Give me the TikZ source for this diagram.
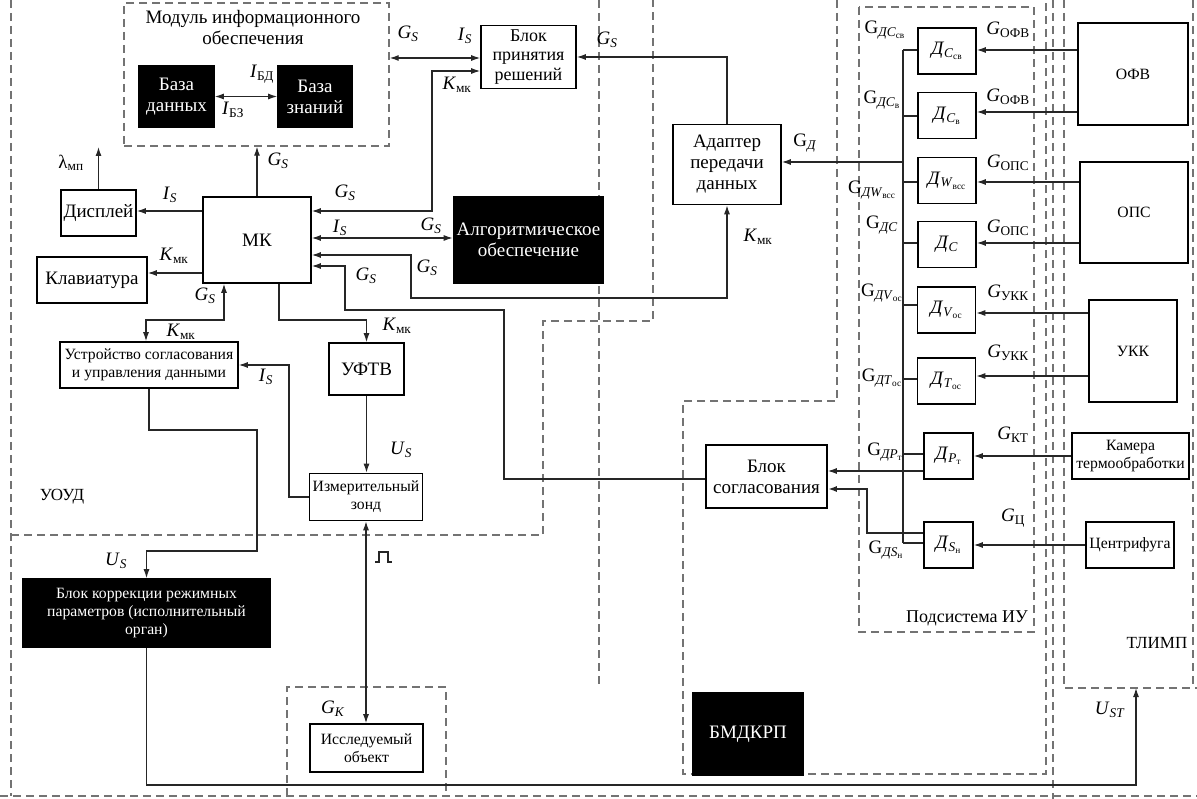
\documentclass[tikz,border=0pt]{standalone}
\usepackage{fontspec}
\setmainfont{Liberation Serif}
\usetikzlibrary{arrows.meta}

\newcommand{\sig}[2]{\textit{#1}\textsubscript{#2}}
\newcommand{\dat}[2]{\textit{Д}\textsubscript{\textit{#1}\textsubscript{#2}}}
\newcommand{\gdat}[2]{G\textsubscript{\textit{Д#1}\textsubscript{#2}}}

\begin{document}
\begin{tikzpicture}[x=1pt, y=-1pt,
    >={Latex[length=9pt,width=6pt]},
    blk/.style={draw, line width=1.6pt, fill=white, align=center, inner sep=1pt,
      font=\fontsize{19}{21}\selectfont},
    dark/.style={blk, fill=black, text=white},
    sml/.style={font=\fontsize{15.7}{18}\selectfont},
    sen/.style={blk, minimum width=58pt, minimum height=46pt, font=\fontsize{19}{20}\selectfont},
    region/.style={draw=black!55, line width=1.3pt, dash pattern=on 8pt off 5pt},
    lbl/.style={inner sep=0pt, font=\fontsize{19}{20}\selectfont},
    slbl/.style={inner sep=0pt, font=\fontsize{19}{20}\selectfont},
    conn/.style={line width=1.2pt, draw=black!85}]
  \useasboundingbox (0,0) rectangle (1197,799);

  % dashed regions
  \draw[region] (11,0) -- (11,796);
  \draw[region] (0,796) -- (1197,796);
  \draw[region] (11,535) -- (543,535) -- (543,321) -- (653,321) -- (653,0);
  \draw[region] (599,0) -- (599,688);
  \draw[region] (287,796) -- (287,687) -- (446,687) -- (446,796);
  \draw[region] (837,0) -- (837,401) -- (683,401) -- (683,774) -- (1046,774) -- (1046,0);
  \draw[region] (859,7) rectangle (1034,632);
  \draw[region] (1053,0) -- (1053,799);
  \draw[region] (1064,0) -- (1064,688) -- (1197,688);
  \draw[region] (1193,0) -- (1193,688);
  \node[font=\fontsize{17}{18}\selectfont] (uoud) at (62,497) {УОУД};
  \node[font=\fontsize{18}{19}\selectfont] (podsys) at (967,618) {Подсистема ИУ};
  \node[font=\fontsize{17}{18}\selectfont] (tlimp) at (1157,643) {ТЛИМП};

  % module of information support
  \node[region, minimum width=265pt, minimum height=143pt] (mod) at (256.5,74.5) {};
  \node[inner sep=0pt, align=center, font=\fontsize{19}{21}\selectfont] (modT) at (253,28) {Модуль информационного\\обеспечения};
  \node[dark, minimum width=75pt, minimum height=61pt] (bd) at (176.5,96.5) {База\\данных};
  \node[dark, minimum width=74pt, minimum height=61pt] (bz) at (315,96.5) {База\\знаний};

  % blocks
  \node[blk, font=\fontsize{18}{19.5}\selectfont, minimum width=95pt, minimum height=63pt] (bpr) at (528.5,57) {Блок\\принятия\\решений};
  \node[blk, minimum width=108pt, minimum height=80pt] (adapt) at (727,164.5) {Адаптер\\передачи\\данных};
  \node[dark, minimum width=150pt, minimum height=86pt] (alg) at (528.5,240) {Алгоритмическое\\обеспечение};
  \node[blk, minimum width=108pt, minimum height=86pt] (mk) at (257,240) {МК};
  \node[blk, minimum width=75pt, minimum height=46pt] (disp) at (98.5,213) {Дисплей};
  \node[blk, minimum width=110pt, minimum height=46pt] (klav) at (92,280) {Клавиатура};
  \node[blk, sml, minimum width=178pt, minimum height=46pt] (usu) at (149,365) {Устройство согласования\\и управления данными};
  \node[blk, minimum width=75pt, minimum height=52pt] (uftv) at (366.5,369) {УФТВ};
  \node[blk, sml, minimum width=113pt, minimum height=47pt] (zond) at (366,497) {Измерительный\\зонд};
  \node[blk, minimum width=121pt, minimum height=63pt] (bsogl) at (766.5,476.5) {Блок\\согласования};
  \node[dark, sml, minimum width=247pt, minimum height=68pt] (bkor) at (146.5,613) {Блок коррекции режимных\\параметров (исполнительный\\орган)};
  \node[blk, sml, minimum width=113pt, minimum height=48pt] (obj) at (366.5,748) {Исследуемый\\объект};
  \node[dark, minimum width=110pt, minimum height=82pt] (bmd) at (748,734) {БМДКРП};

  % sensors
  \node[sen] (d1) at (947,51) {\dat{C}{св}};
  \node[sen] (d2) at (947,115.5) {\dat{C}{в}};
  \node[sen] (d3) at (947,180.5) {\dat{W}{всс}};
  \node[sen] (d4) at (947,244.5) {\textit{Д}\textsubscript{\textit{C}}};
  \node[sen] (d5) at (946.5,310) {\dat{V}{ос}};
  \node[sen] (d6) at (946.5,381) {\dat{T}{ос}};
  \node[sen, minimum width=49pt] (d7) at (948.5,456) {\dat{P}{т}};
  \node[sen, minimum width=49pt] (d8) at (948.5,545) {\dat{S}{н}};

  % sources
  \node[blk, sml, minimum width=110pt, minimum height=102pt] (ofv) at (1133,74) {ОФВ};
  \node[blk, sml, minimum width=108pt, minimum height=101pt] (ops) at (1134,212.5) {ОПС};
  \node[blk, sml, minimum width=88pt, minimum height=102pt] (ukk) at (1133,351) {УКК};
  \node[blk, sml, minimum width=117pt, minimum height=46pt] (kam) at (1130.5,456) {Камера\\термообработки};
  \node[blk, sml, minimum width=88pt, minimum height=46pt] (cf) at (1130,545) {Центрифуга};

  % sensor bus
  \coordinate (busT) at (903,50);
  \coordinate (busB) at (903,543);
  \draw[conn] (busT) -- (busB);
  \foreach \d/\y in {d1/50, d2/116, d3/182, d4/243, d5/305, d6/379, d7/454, d8/543}
    \draw[conn] (busT |- 0,\y) -- (\d.west |- 0,\y);
  \draw[conn,->] (ofv.west |- 0,50) -- (d1.east |- 0,50);
  \draw[conn,->] (ofv.west |- 0,112) -- (d2.east |- 0,112);
  \draw[conn,->] (ops.west |- 0,182) -- (d3.east |- 0,182);
  \draw[conn,->] (ops.west |- 0,243) -- (d4.east |- 0,243);
  \draw[conn,->] (ukk.west |- 0,313) -- (d5.east |- 0,313);
  \draw[conn,->] (ukk.west |- 0,376) -- (d6.east |- 0,376);
  \draw[conn,->] (kam.west) -- (d7.east);
  \draw[conn,->] (cf.west) -- (d8.east);
  \draw[conn,->] (busT |- 0,162) -- (adapt.east |- 0,162);
  \draw[conn,->] (d7.west |- 0,471) -- (bsogl.east |- 0,471);
  \draw[conn,->,line width=1.8pt] (d8.west |- 0,533) -| (867,489) -- (bsogl.east |- 0,489);

  % top connectors
  \draw[conn,<->] (bd) -- (bz);
  \draw[conn,<->] (mod.east |- 0,58) -- (bpr.west |- 0,58);
  \draw[conn,->] (adapt.north) |- (bpr.east);
  \draw[conn,->] (mk.north) -- (mod.south -| mk.north);
  \draw[conn,<->] (mk.east |- 0,211) -| (432,71) -- (bpr.west |- 0,71);
  \draw[conn,<->] (mk.east |- 0,238) -- (alg.west |- 0,238);
  \draw[conn,<->] (mk.east |- 0,255) -| (411,298) -| (adapt.south);
  \draw[conn,->] (bsogl.west |- 0,479) -| (504,310) -| (345,266) -- (mk.east |- 0,266);

  % left connectors
  \coordinate (lam) at (99,147);
  \draw[conn,->] (disp.north) -- (disp.north |- lam);
  \draw[conn,->] (mk.west |- 0,211) -- (disp.east |- 0,211);
  \draw[conn,->] (mk.west |- 0,273) -- (klav.east |- 0,273);
  \draw[conn,<->] (mk.south -| 224,0) -- (224,320) -| (usu.north -| 146,0);
  \draw[conn,->] (mk.south -| 279,0) |- (uftv.north |- 0,320) -- (uftv.north);
  \draw[conn,->] (uftv.south) -- (zond.north -| uftv.south);
  \draw[conn,->] (zond.west) -| (289,365) -- (usu.east |- 0,365);
  \draw[conn,->] (usu.south) -- (usu.south |- 0,430) -| (257,551) -| (bkor.north);
  \draw[conn,<->] (zond.south) -- (obj.north -| zond.south);
  \coordinate (ust) at (1136,688);
  \draw[conn,->] (bkor.south) |- (ust |- 0,785) -- (ust);
  % pulse mark
  \draw[conn] (375,562) -- (379,562) -- (379,552) -- (388,552) -- (388,562) -- (392,562);

  % labels
  \node[lbl] (gS1) at (408,34) {\sig{G}{\textit{S}}};
  \node[lbl] (iS1) at (465,36) {\sig{I}{\textit{S}}};
  \node[lbl] (kM1) at (457,85) {\sig{K}{мк}};
  \node[lbl] (gS2) at (607,40) {\sig{G}{\textit{S}}};
  \node[lbl] (iBD) at (262,74) {\sig{I}{БД}};
  \node[lbl] (iBZ) at (233,110) {\sig{I}{БЗ}};
  \node[lbl] (gS3) at (278,161) {\sig{G}{\textit{S}}};
  \node[lbl] (lmp) at (71,163) {λ\textsubscript{мп}};
  \node[lbl] (iS2) at (170,195) {\sig{I}{\textit{S}}};
  \node[lbl] (gS4) at (345,193) {\sig{G}{\textit{S}}};
  \node[lbl] (iS3) at (340,228) {\sig{I}{\textit{S}}};
  \node[lbl] (gS5) at (431,226) {\sig{G}{\textit{S}}};
  \node[lbl] (gS6) at (427,268) {\sig{G}{\textit{S}}};
  \node[lbl] (gS7) at (366,276) {\sig{G}{\textit{S}}};
  \node[lbl] (kM2) at (174,256) {\sig{K}{мк}};
  \node[lbl] (gS8) at (205,296) {\sig{G}{\textit{S}}};
  \node[lbl] (kM3) at (181,332) {\sig{K}{мк}};
  \node[lbl] (kM4) at (397,326) {\sig{K}{мк}};
  \node[lbl] (iS4) at (266,377) {\sig{I}{\textit{S}}};
  \node[lbl] (uS1) at (401,450) {\sig{U}{\textit{S}}};
  \node[lbl] (uS2) at (116,561) {\sig{U}{\textit{S}}};
  \node[lbl] (gK) at (333,709) {\sig{G}{\textit{K}}};
  \node[lbl] (uST) at (1110,710) {\sig{U}{\textit{ST}}};
  \node[lbl] (gD) at (805,143) {G\textsubscript{\textit{Д}}};
  \node[lbl] (kM5) at (758,237) {\sig{K}{мк}};
  \node[lbl] (gOFV1) at (1008,30) {\sig{G}{ОФВ}};
  \node[lbl] (gOFV2) at (1008,97) {\sig{G}{ОФВ}};
  \node[lbl] (gOPS1) at (1008,163) {\sig{G}{ОПС}};
  \node[lbl] (gOPS2) at (1008,228) {\sig{G}{ОПС}};
  \node[lbl] (gUKK1) at (1008,293) {\sig{G}{УКК}};
  \node[lbl] (gUKK2) at (1008,353) {\sig{G}{УКК}};
  \node[lbl] (gKT) at (1013,435) {\sig{G}{КТ}};
  \node[lbl] (gC) at (1013,518) {\sig{G}{Ц}};
  \node[slbl] (gd1) at (885,30) {\gdat{C}{св}};
  \node[slbl] (gd2) at (882,100) {\gdat{C}{в}};
  \node[slbl] (gd3) at (872,190) {\gdat{W}{всс}};
  \node[slbl] (gd4) at (882,225) {G\textsubscript{\textit{ДC}}};
  \node[slbl] (gd5) at (882,293) {\gdat{V}{ос}};
  \node[slbl] (gd6) at (882,378) {\gdat{T}{ос}};
  \node[slbl] (gd7) at (885,452) {\gdat{P}{т}};
  \node[slbl] (gd8) at (886,550) {\gdat{S}{н}};
\end{tikzpicture}
\end{document}
